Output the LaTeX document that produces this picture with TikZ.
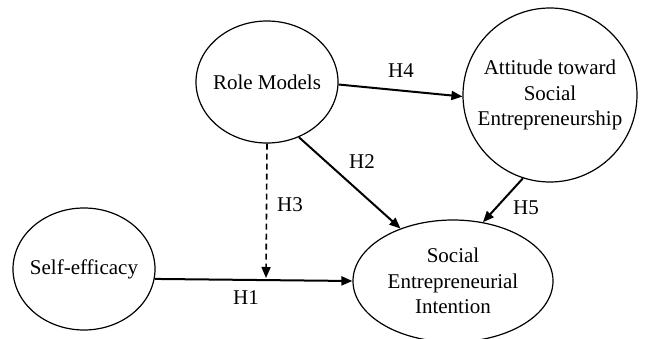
\documentclass[tikz,border=0pt]{standalone}
\usepackage{fontspec}
\setmainfont{Liberation Serif}
\usetikzlibrary{shapes.geometric,arrows.meta}
\begin{document}
\begin{tikzpicture}[x=1pt,y=-1pt,
  construct/.style={ellipse,draw,line width=1.2pt,inner sep=0pt,align=center,text=black,font=\fontsize{21}{25.5}\selectfont},
  hpath/.style={line width=2pt,-{Triangle[length=11pt,width=9pt]}},
  hdash/.style={line width=1.6pt,dash pattern=on 6pt off 4pt,-{Triangle[length=11pt,width=9pt]}},
  hlabel/.style={font=\fontsize{21}{25}\selectfont,text=black,inner sep=0pt}]
\useasboundingbox (0,0) rectangle (649,338);
\node[construct,inner xsep=-12pt,minimum width=142pt,minimum height=122pt] (rm) at (267,82) {Role Models};
\node[construct,inner xsep=-20pt,minimum width=174pt,minimum height=174pt] (att) at (550,95) {Attitude toward\\Social\\Entrepreneurship};
\node[construct,inner xsep=-12pt,minimum width=142pt,minimum height=122pt] (se) at (84,269) {Self-efficacy};
\node[construct,inner xsep=-6pt,minimum width=200pt,minimum height=122pt] (sei) at (453,281) {Social\\Entrepreneurial\\Intention};
\coordinate (h3end) at (266,278);
\draw[hpath] (rm.-2.4) -- (att.181);
\draw[hpath] (rm.-60) -- (sei.135.5);
\draw[hpath] (att.-108) -- (sei.63);
\draw[hpath] (se.-8) -- (sei.180);
\draw[hdash] (rm.south) -- (h3end);
\node[hlabel] (l4) at (401,71) {H4};
\node[hlabel] (l2) at (362,162) {H2};
\node[hlabel] (l3) at (290,205) {H3};
\node[hlabel] (l1) at (246,298) {H1};
\node[hlabel] (l5) at (526,208) {H5};
\end{tikzpicture}
\end{document}
